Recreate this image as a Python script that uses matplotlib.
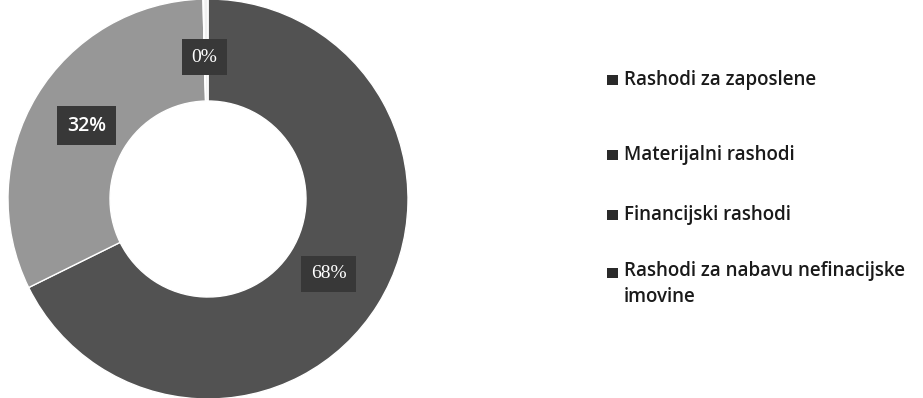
import numpy as np
import matplotlib.pyplot as plt
from matplotlib.patches import Rectangle

categories = ['Rashodi za zaposlene', 'Materijalni rashodi', 'Financijski rashodi',
              'Rashodi za nabavu nefinacijske\nimovine']
values = [67.7, 31.9, 0.05, 0.35]
pct_labels = ['68%', '32%', '0%', '']

colors = ['#525252', '#979797', '#6a6a6a', '#f0f0f0']

fig = plt.figure(figsize=(9.23, 3.98), dpi=100)
ax = fig.add_axes([8/923, -1/398, 400/923, 400/398])

wedges, _ = ax.pie(values, colors=colors, startangle=90, counterclock=False,
                   radius=1.0, wedgeprops=dict(width=0.51, edgecolor='white', linewidth=1.0))
ax.set_aspect('equal')
ax.set_xlim(-1.0, 1.0)
ax.set_ylim(-1.0, 1.0)

label_fonts = ['Liberation Serif', 'Open Sans', 'Liberation Serif', 'Liberation Serif']
for w, txt, fam in zip(wedges, pct_labels, label_fonts):
    if not txt:
        continue
    mid = np.deg2rad((w.theta1 + w.theta2) / 2)
    r = 0.71
    ax.text(r*np.cos(mid), r*np.sin(mid), txt, ha='center', va='center',
            color='white', fontsize=14, family=fam, weight='semibold' if fam == 'Open Sans' else 'normal',
            bbox=dict(boxstyle='square,pad=0.5', facecolor='#383838', edgecolor='none'))

# legend, drawn by hand to follow the spacing of the reference
rows_y = [80, 155, 215, 273]
for lab, y in zip(categories, rows_y):
    fig.patches.append(Rectangle((607/923, 1 - (y + 5)/398), 11/923, 10/398,
                                 transform=fig.transFigure, facecolor='#2a2a2a',
                                 edgecolor='none'))
    fig.text(624/923, 1 - (y - 12)/398 if '\n' in lab else 1 - y/398, lab, ha='left',
             va='top' if '\n' in lab else 'center',
             fontsize=13.5, family='Open Sans', weight='semibold', color='#1a1a1a',
             linespacing=1.4)

fig.savefig('out.png', dpi=100)
